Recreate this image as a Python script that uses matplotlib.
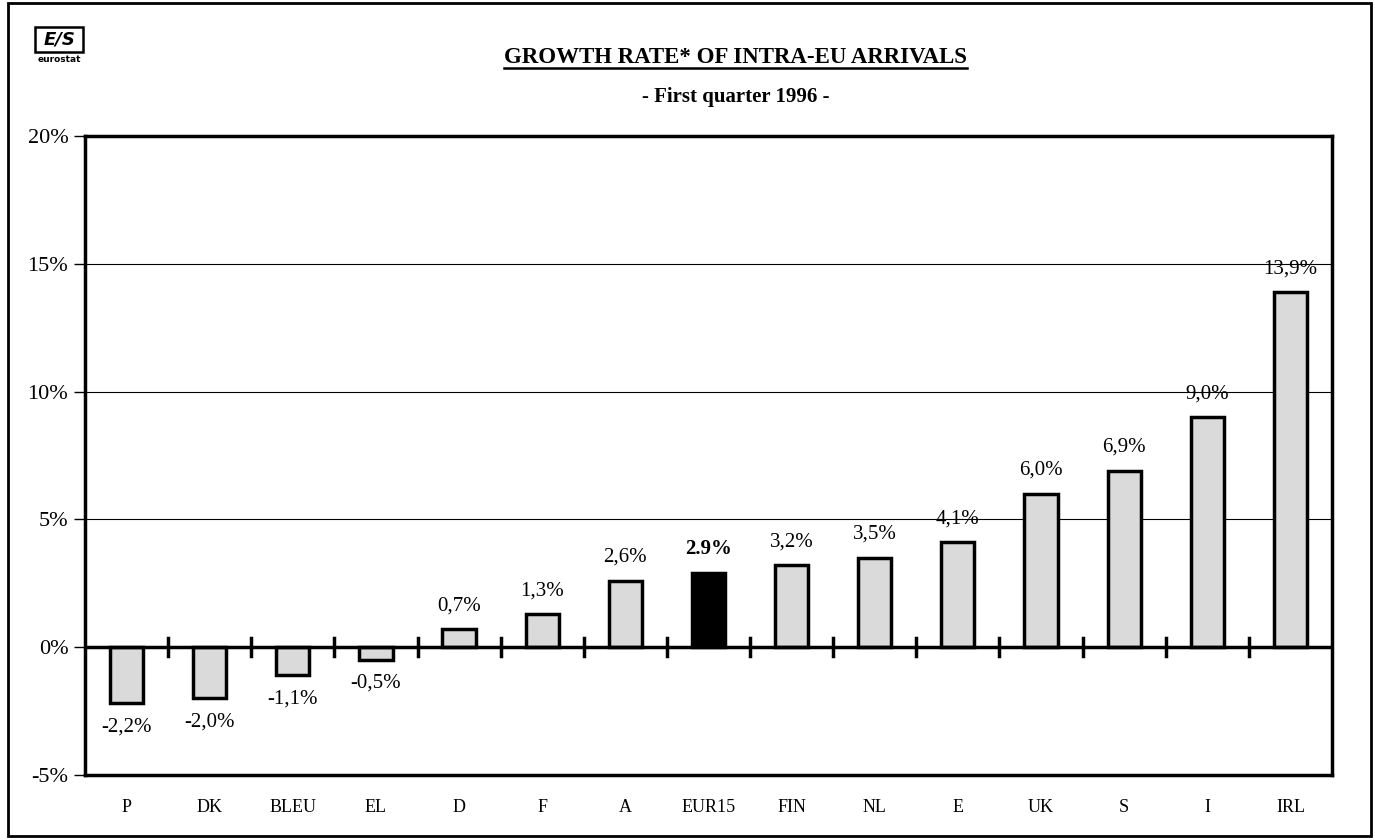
"""Growth rate of intra-EU arrivals, first quarter 1996"""
import matplotlib
matplotlib.use("Agg")
import matplotlib.pyplot as plt
from matplotlib.patches import Rectangle
from matplotlib.lines import Line2D

countries = ["P", "DK", "BLEU", "EL", "D", "F", "A", "EUR15",
             "FIN", "NL", "E", "UK", "S", "I", "IRL"]
growth = [-2.2, -2.0, -1.1, -0.5, 0.7, 1.3, 2.6, 2.9,
          3.2, 3.5, 4.1, 6.0, 6.9, 9.0, 13.9]
yticks = [-5, 0, 5, 10, 15, 20]

plt.rcParams['font.family'] = ['Liberation Serif', 'DejaVu Serif']

fig = plt.figure(figsize=(13.75, 8.4), dpi=100)
ax = fig.add_axes([0.0618, 0.0774, 0.9069, 0.7606])

x = list(range(len(countries)))
colors = ["black" if c == "EUR15" else "#dadada" for c in countries]
ax.bar(x, growth, width=0.4, color=colors, edgecolor="black",
       linewidth=2.5, zorder=3)

# value labels: comma decimals, EU average in bold with a point
for xi, v, c in zip(x, growth, countries):
    if c == "EUR15":
        txt = f"{v:.1f}%"
        weight = "bold"
    else:
        txt = f"{v:.1f}%".replace(".", ",")
        weight = "normal"
    off = 10 if v > 0 else -10
    ax.annotate(txt, (xi, v), xytext=(0, off), textcoords="offset points",
                ha="center", va="bottom" if v > 0 else "top",
                fontsize=15, fontweight=weight, zorder=4)

ax.set_xlim(-0.5, len(countries) - 0.5)
ax.set_ylim(-5, 20)
ax.set_yticks(yticks)
ax.set_yticklabels([f"{t}%" for t in yticks], fontsize=16)
ax.set_xticks(x)
ax.set_xticklabels(countries, fontsize=13)
ax.tick_params(axis="x", length=0, pad=17)
ax.tick_params(axis="y", direction="out", length=8, width=1, pad=4)

ax.yaxis.grid(True, color="black", linewidth=0.8, zorder=0)
for s in ax.spines.values():
    s.set_linewidth(2.5)

# zero line with category separators
ax.axhline(0, color="black", linewidth=2.5, zorder=4)
for b in range(len(countries) - 1):
    ax.plot([b + 0.5, b + 0.5], [-0.35, 0.35], color="black",
            linewidth=2.5, zorder=4, clip_on=False)

# titles
title = fig.text(0.535, 0.931, "GROWTH RATE* OF INTRA-EU ARRIVALS",
                 ha="center", va="center", fontsize=16.5, fontweight="bold")
fig.text(0.535, 0.884, "- First quarter 1996 -", ha="center", va="center",
         fontsize=15, fontweight="bold")
fig.canvas.draw()
bb = title.get_window_extent().transformed(fig.transFigure.inverted())
fig.add_artist(Line2D([bb.x0, bb.x1], [bb.y0 + 0.001, bb.y0 + 0.001],
                      color="black", linewidth=1.8))

# eurostat logo
fig.add_artist(Rectangle((0.0255, 0.938), 0.035, 0.030, fill=False,
                         edgecolor="black", linewidth=1.8))
fig.text(0.043, 0.953, "E/S", ha="center", va="center", fontsize=13,
         fontweight="bold", fontstyle="italic", family="DejaVu Sans")
fig.text(0.043, 0.929, "eurostat", ha="center", va="center", fontsize=6.5,
         fontweight="bold", family="DejaVu Sans")

# page frame
fig.add_artist(Rectangle((0.006, 0.005), 0.991, 0.991, fill=False,
                         edgecolor="black", linewidth=2))

fig.savefig("out.png", dpi=100)
